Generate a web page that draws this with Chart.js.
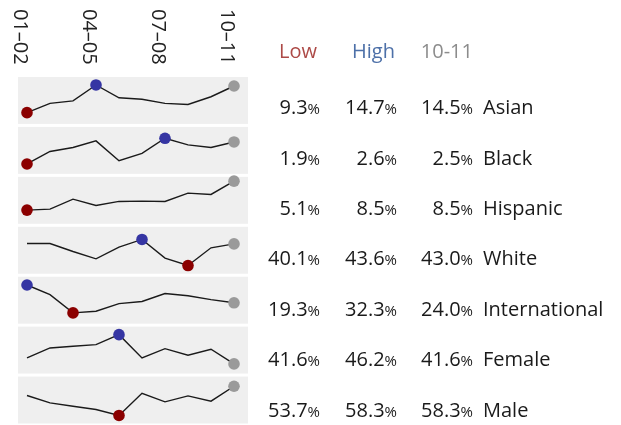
<!DOCTYPE html>
<html>
<head>
<meta charset="utf-8">
<script src="https://cdn.jsdelivr.net/npm/chart.js@4.4.1/dist/chart.umd.min.js"></script>
<style>
  body { margin: 0; background: #fff; font-family: "Open Sans", sans-serif; }
  #wrap { position: relative; width: 621px; height: 425px; overflow: hidden; }
  #sparkChart { position: absolute; left: 0; top: 0; }
  .t { position: absolute; font-size: 20px; line-height: 24px; white-space: nowrap; color: #1a1a1a; }
  .num { text-align: right; width: 80px; }
  .pct { font-size: 15px; }
</style>
</head>
<body>
<div id="wrap">
  <canvas id="sparkChart" width="250" height="425"></canvas>
</div>
<script>
const years = ['01–02', '02–03', '03–04', '04–05', '05–06', '06–07', '07–08', '08–09', '09–10', '10–11'];
const tickYears = ['01–02', '04–05', '07–08', '10–11'];
const groups = ['Asian', 'Black', 'Hispanic', 'White', 'International', 'Female', 'Male'];

// percent of students, one value per academic year
const asian = [9.3, 11.1, 11.6, 14.7, 12.2, 11.9, 11.1, 10.9, 12.4, 14.5];
const black = [1.9, 2.24, 2.35, 2.53, 1.99, 2.19, 2.6, 2.42, 2.35, 2.5];
const hispanic = [5.1, 5.22, 6.39, 5.65, 6.12, 6.16, 6.12, 7.09, 6.94, 8.5];
const white = [43.06, 43.06, 41.98, 41.0, 42.57, 43.6, 41.09, 40.1, 42.48, 43.0];
const international = [32.3, 27.8, 19.3, 20.1, 23.6, 24.6, 28.3, 27.3, 25.5, 24.0];
const female = [42.54, 44.11, 44.37, 44.63, 46.2, 42.54, 44.0, 42.96, 43.9, 41.6];
const male = [56.84, 55.69, 55.16, 54.64, 53.7, 57.2, 55.84, 56.78, 55.95, 58.3];

const series = [asian, black, hispanic, white, international, female, male];

// y range of each small panel
const axisMin = [6.8, 1.59, 3.32, 38.8, 13.6, 39.84, 52.2];
const axisMax = [16.55, 2.95, 9.18, 45.5, 36.85, 47.7, 60.06];

const LOW = '#8b0000', HIGH = '#3535a3', LAST = '#9a9a9a';

function markers(values) {
  const lo = values.indexOf(Math.min(...values));
  const hi = values.indexOf(Math.max(...values));
  const last = values.length - 1;
  const radius = values.map((v, i) => (i === lo || i === hi || i === last) ? 5.8 : 0);
  const color = values.map((v, i) => i === last ? LAST : i === hi ? HIGH : i === lo ? LOW : 'rgba(0,0,0,0)');
  return { radius, color };
}

const datasets = series.map((values, i) => {
  const m = markers(values);
  return {
    label: groups[i],
    data: values,
    yAxisID: 'y' + i,
    borderColor: '#1a1a1a',
    borderWidth: 1.4,
    tension: 0,
    pointRadius: m.radius,
    pointHoverRadius: m.radius,
    pointBackgroundColor: m.color,
    pointBorderWidth: 0,
    clip: false
  };
});

const scales = {
  x: { type: 'category', display: false, offset: false }
};
groups.forEach((g, i) => {
  scales['y' + i] = {
    type: 'linear',
    display: false,
    position: 'left',
    stack: 'rows',
    stackWeight: 1,
    weight: groups.length - i,
    min: axisMin[i],
    max: axisMax[i]
  };
});

const panels = {
  id: 'panels',
  beforeDatasetsDraw(chart) {
    const { ctx, chartArea } = chart;
    ctx.save();
    ctx.fillStyle = '#efefef';
    groups.forEach((g, i) => {
      const s = chart.scales['y' + i];
      ctx.fillRect(chartArea.left - 9, s.top + 1.5, chartArea.right - chartArea.left + 23, s.bottom - s.top - 3);
    });
    ctx.restore();
  }
};

const yearTicks = {
  id: 'yearTicks',
  afterDraw(chart) {
    const ctx = chart.ctx;
    const x = chart.scales.x;
    ctx.save();
    ctx.font = '20px "Open Sans"';
    ctx.fillStyle = '#222';
    ctx.textAlign = 'left';
    ctx.textBaseline = 'alphabetic';
    tickYears.forEach(t => {
      const px = x.getPixelForValue(years.indexOf(t));
      ctx.save();
      ctx.translate(px - 13.5, 9);
      ctx.rotate(Math.PI / 2);
      ctx.fillText(t, 0, 0);
      ctx.restore();
    });
    ctx.restore();
  }
};

new Chart(document.getElementById('sparkChart'), {
  type: 'line',
  data: { labels: years, datasets: datasets },
  options: {
    responsive: false,
    animation: false,
    layout: { autoPadding: false, padding: { top: 75.5, left: 27, right: 16, bottom: 0 } },
    plugins: { legend: { display: false }, tooltip: { enabled: false } },
    scales: scales
  },
  plugins: [panels, yearTicks]
});

// table of low / high / latest values
const wrap = document.getElementById('wrap');
function addText(html, x, baseline, color, cls) {
  const d = document.createElement('div');
  d.className = 't ' + (cls || '');
  d.innerHTML = html;
  d.style.top = (baseline - 19.8) + 'px';
  d.style.left = (cls === 'num' ? x - 80 : x) + 'px';
  if (color) d.style.color = color;
  wrap.appendChild(d);
}
const colRight = [320, 397, 473];
addText('Low', 317, 59, '#ad4a47', 'num');
addText('High', 395, 59, '#4d70a8', 'num');
addText(years[years.length - 1].replace('–', '-'), 473, 59, '#8c8c8c', 'num');

series.forEach((values, i) => {
  const base = 115 + 50.4 * i;
  const cells = [Math.min(...values), Math.max(...values), values[values.length - 1]];
  cells.forEach((v, c) => {
    addText(v.toFixed(1) + '<span class="pct">%</span>', colRight[c], base, null, 'num');
  });
  addText(groups[i], 483, base, null, '');
});
</script>
</body>
</html>
